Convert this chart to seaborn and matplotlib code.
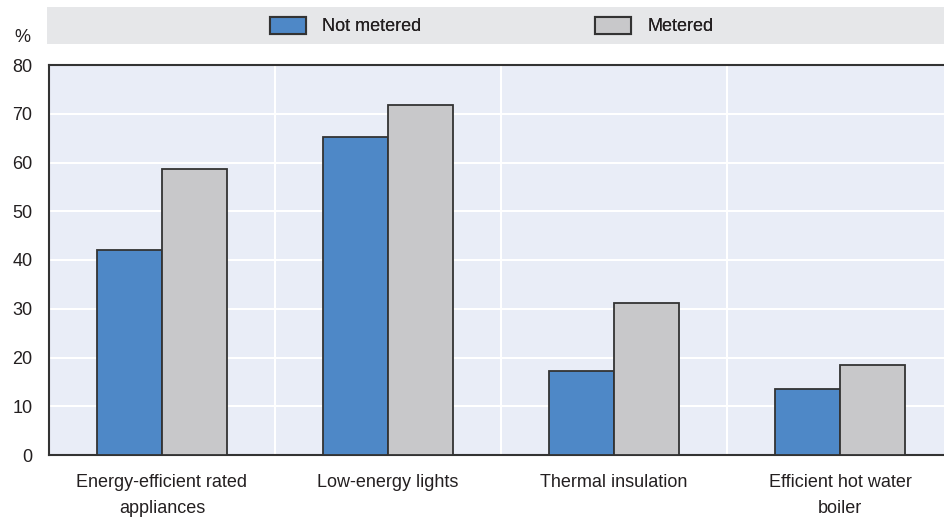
import matplotlib
matplotlib.use("Agg")
import matplotlib.pyplot as plt
import matplotlib.patches as mpatches
import seaborn as sns
import pandas as pd

# -------------------------------
# Data (%)
categories = ["Energy-efficient rated\nappliances", "Low-energy lights",
              "Thermal insulation", "Efficient hot water\nboiler"]
not_metered = [42, 65.2, 17.2, 13.5]
metered = [58.7, 71.8, 31.2, 18.5]
series = ["Not metered", "Metered"]

df = pd.DataFrame({
    "category": categories * 2,
    "value": not_metered + metered,
    "group": [series[0]] * len(categories) + [series[1]] * len(categories),
})

# -------------------------------
# Style
sns.set_style("white")
plt.rcParams["font.family"] = ["Liberation Sans Narrow", "Liberation Sans", "DejaVu Sans"]
text_col = "#231f20"
edge = "#333333"
blue = "#4e88c7"
grey = "#c8c8ca"
bg = "#e9edf7"

fig = plt.figure(figsize=(9.45, 5.23), dpi=100)
# the plot area runs slightly past the right edge of the picture
ax = fig.add_axes([49 / 945, 68 / 523, 904 / 945, (455 - 65) / 523])
ax.set_facecolor(bg)

sns.barplot(data=df, x="category", y="value", hue="group", hue_order=series,
            palette=[blue, grey], width=0.575, gap=0, edgecolor=edge,
            linewidth=1.3, saturation=1, ax=ax, legend=False, zorder=3)

ax.set_xlim(-0.5, len(categories) - 0.5)
ax.set_ylim(0, 80)
ax.set_yticks(range(0, 81, 10))
ax.set_xlabel("")
ax.set_ylabel("")

# gridlines: horizontal at y ticks, vertical at category boundaries
ax.set_xticks([i + 0.5 for i in range(len(categories) - 1)], minor=True)
ax.grid(axis="y", color="white", linewidth=1.5, zorder=0)
ax.grid(axis="x", which="minor", color="white", linewidth=1.5, zorder=0)
ax.set_axisbelow(True)

ax.tick_params(axis="x", which="major", length=0, labelsize=13, colors=text_col, pad=14)
ax.tick_params(axis="x", which="minor", direction="in", length=6, width=1.3, color=edge)
ax.tick_params(axis="y", direction="in", length=7, width=1.3, color=edge,
               labelsize=13, labelcolor=text_col, pad=12)
for lbl in ax.get_xticklabels():
    lbl.set_ha("center")
    lbl.set_linespacing(1.65)

for side in ["left", "bottom", "top"]:
    ax.spines[side].set_color(edge)
    ax.spines[side].set_linewidth(1.5)
ax.spines["right"].set_visible(False)

# "%" unit label
fig.text(22 / 945, 1 - 37 / 523, "%", fontsize=13, color=text_col, ha="center", va="center")

# legend band
band = mpatches.Rectangle((47 / 945, 1 - 44 / 523), 1 - 47 / 945, 37 / 523,
                          transform=fig.transFigure, facecolor="#e6e7e9",
                          edgecolor="none", zorder=0)
fig.patches.append(band)

# one legend entry per series, placed at the handle's left edge
legend_x = [270, 595]
for name, colour, x0 in zip(series, [blue, grey], legend_x):
    h = mpatches.Patch(facecolor=colour, edgecolor=edge, linewidth=1.5)
    leg = fig.legend([h], [name], loc="center left", bbox_to_anchor=(x0 / 945, 1 - 26 / 523),
                     frameon=False, fontsize=13, handlelength=2.0, handleheight=1.1,
                     handletextpad=0.9, borderpad=0, borderaxespad=0, labelcolor=text_col)
    fig.add_artist(leg)

plt.savefig("out.png", dpi=100)
